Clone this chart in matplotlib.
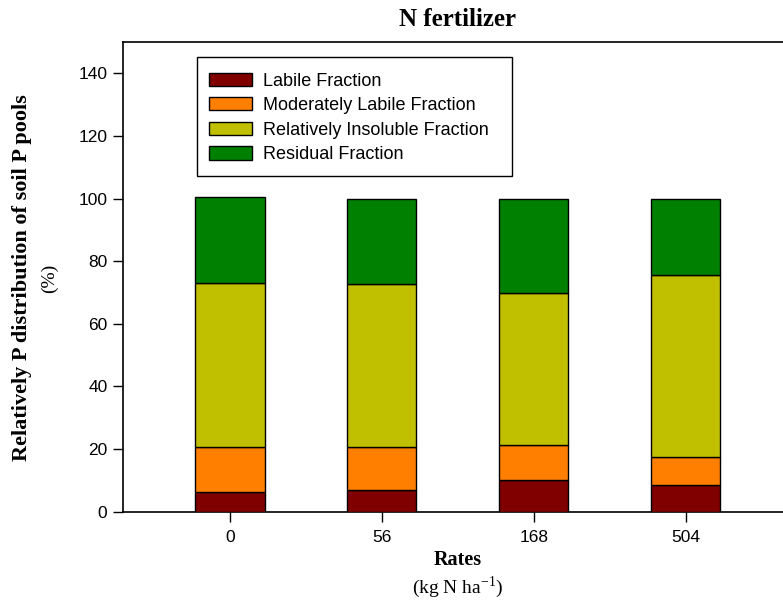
import matplotlib
matplotlib.use("Agg")
import matplotlib.pyplot as plt
from matplotlib.patches import Rectangle
import numpy as np

rates = ["0", "56", "168", "504"]
series_names = ["Labile Fraction", "Moderately Labile Fraction",
                "Relatively Insoluble Fraction", "Residual Fraction"]
labile = [6.4, 6.9, 10.1, 8.5]
moderately_labile = [14.4, 13.8, 11.1, 8.9]
relatively_insoluble = [52.3, 52.1, 48.7, 58.3]
residual = [27.3, 27.1, 30.0, 24.2]
colors = ["#800000", "#FF8000", "#C0C000", "#008000"]

sans = ["Liberation Sans", "DejaVu Sans"]
serif = ["Liberation Serif", "DejaVu Serif"]
plt.rcParams["font.family"] = sans

W, H = 783, 604
fig = plt.figure(figsize=(W / 100, H / 100), dpi=100)
ax_left, ax_right = 122.7 / W, 793 / W
ax_bottom, ax_top = 1 - 511.7 / H, 1 - 42 / H
ax = fig.add_axes([ax_left, ax_bottom, ax_right - ax_left, ax_top - ax_bottom])

x = np.arange(len(rates))
bottom = np.zeros(len(rates))
for name, vals, c in zip(series_names,
                         [labile, moderately_labile, relatively_insoluble, residual],
                         colors):
    ax.bar(x, vals, width=0.455, bottom=bottom, color=c, edgecolor="black",
           linewidth=1.0, label=name, zorder=3)
    bottom += np.array(vals)

ax.set_xlim(-0.706, 3.706)
ax.set_ylim(0, 150)
ax.set_yticks(np.arange(0, 141, 20))
ax.set_xticks(x)
ax.set_xticklabels(rates)
ax.tick_params(direction="out", length=7, width=1, labelsize=12.5, pad=4,
               colors="black")
ax.tick_params(axis="x", pad=6)
for s in ax.spines.values():
    s.set_linewidth(1.2)
ax.spines["right"].set_visible(False)

cx = (ax_left + ax_right) / 2
fig.text(cx, 1 - 20 / H, "N fertilizer", family=serif, weight="bold",
         fontsize=18, ha="center", va="center")
fig.text(cx, 1 - 560 / H, "Rates", family=serif, weight="bold",
         fontsize=14.5, ha="center", va="center")
fig.text(cx, 1 - 587 / H, r"(kg N ha$^{\mathregular{-1}}$)", family=serif,
         fontsize=14, ha="center", va="center")
fig.text(22 / W, 1 - 278 / H, "Relatively P distribution of soil P pools",
         family=serif, weight="bold", fontsize=16, rotation=90,
         ha="center", va="center")
fig.text(49 / W, 1 - 278 / H, "(%)", family=serif, fontsize=14,
         rotation=90, ha="center", va="center")

# legend frame drawn separately
fx0, fy0, fx1, fy1 = 196.7, 56.7, 511.7, 175.7
ax.add_patch(Rectangle((fx0 / W, 1 - fy1 / H), (fx1 - fx0) / W,
                       (fy1 - fy0) / H, transform=fig.transFigure,
                       facecolor="white", edgecolor="black",
                       linewidth=1.0, zorder=4, clip_on=False))

leg = ax.legend(loc="upper left", bbox_to_anchor=(209 / W, 1 - 72.5 / H),
                bbox_transform=fig.transFigure, fontsize=13,
                handlelength=2.38, handleheight=0.76, labelspacing=0.42,
                handletextpad=0.6, borderpad=0.0, frameon=False,
                borderaxespad=0)
leg.set_zorder(5)

fig.savefig("out.png", dpi=100)
